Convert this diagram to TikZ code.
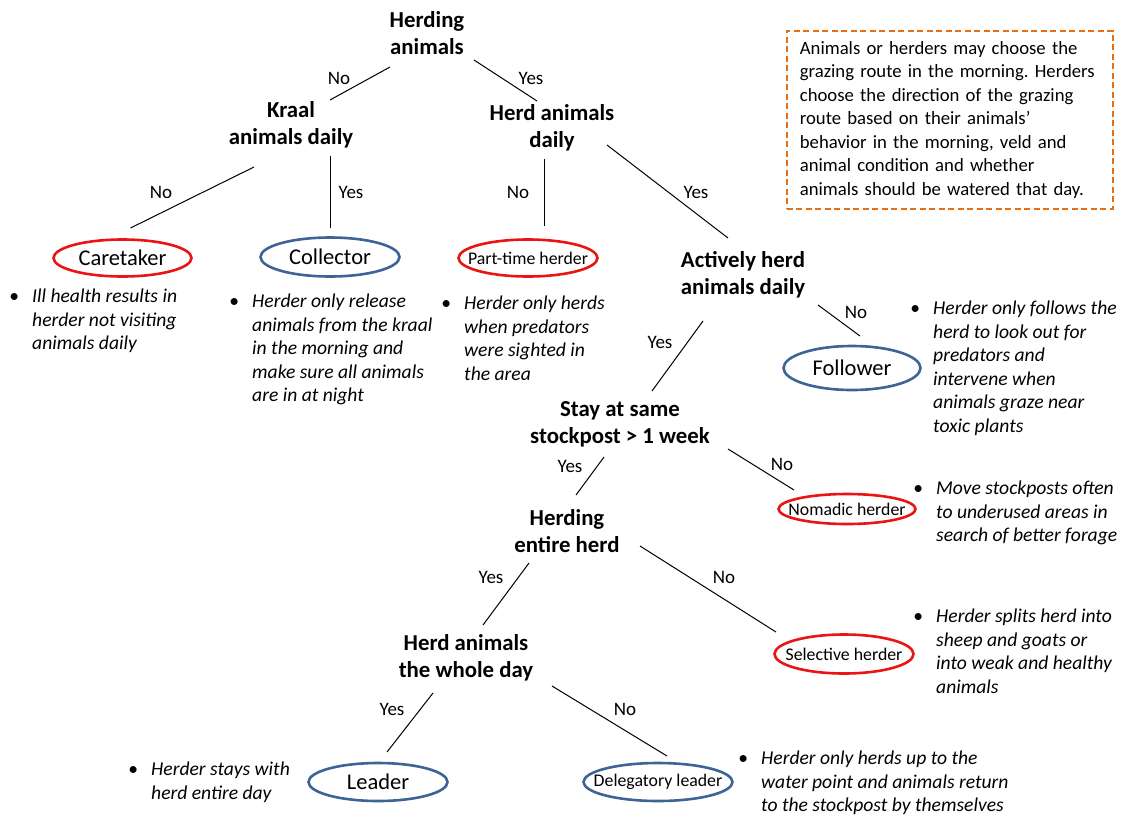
\documentclass[tikz,border=0pt]{standalone}
\usepackage{fontspec}
\setmainfont{Carlito}
\usetikzlibrary{shapes.geometric,calc}
\definecolor{ored}{RGB}{235,20,20}
\definecolor{oblue}{RGB}{62,100,150}
\definecolor{oorange}{RGB}{230,110,20}
\tikzset{
  question/.style={align=center,inner sep=0pt,font=\fontsize{22.8}{27}\selectfont\bfseries},
  role/.style={ellipse,line width=2.6pt,inner sep=0pt,minimum width=139pt,minimum height=38pt,font=\fontsize{22.5}{24}\selectfont},
  rolesmall/.style={role,font=\fontsize{17.8}{20}\selectfont},
  redrole/.style={draw=ored},
  bluerole/.style={draw=oblue},
  lbl/.style={inner sep=0pt,font=\fontsize{19}{21}\selectfont},
  desc/.style={align=left,inner sep=0pt,anchor=north west,font=\fontsize{19.6}{23.5}\selectfont\itshape},
  edge/.style={line width=1pt,black},
  note/.style={draw=oorange,dashed,dash pattern=on 6pt off 3.5pt,line width=1.8pt,anchor=north west,
    minimum width=326pt,minimum height=178pt,inner xsep=13pt,inner ysep=0pt,align=left,
    text width=300pt,font=\fontsize{18.7}{23.5}\selectfont}
}
\newcommand{\bul}{\llap{\upshape\textbullet\hspace{13pt}}}
\newcommand{\rtext}[1]{\makebox[0pt]{#1}}
\frenchspacing
\begin{document}
\begin{tikzpicture}[x=1pt,y=-1pt]
\useasboundingbox (0,0) rectangle (1123,817);
% questions
\node[question] (q0) at (427,33) {Herding\\animals};
\node[question] (q1) at (291,125) {Kraal\\animals daily};
\node[question] (q2) at (552,128) {Herd animals\\daily};
\node[question] (q3) at (743,275) {Actively herd\\animals daily};
\node[question] (q4) at (620,424) {Stay at same\\stockpost > 1 week};
\node[question] (q5) at (567,531) {Herding\\entire herd};
\node[question] (q6) at (466,658) {Herd animals\\the whole day};
% roles
\node[role,redrole,minimum width=138pt,minimum height=37pt] (care) at (122.5,258) {\rtext{Caretaker}};
\node[role,bluerole,minimum height=39pt] (coll) at (330,257) {\rtext{Collector}};
\node[rolesmall,redrole,minimum height=37pt] (part) at (528,258) {\rtext{Part-time herder}};
\node[role,bluerole,minimum width=137pt,minimum height=44pt] (foll) at (852,368) {\rtext{Follower}};
\node[rolesmall,redrole,minimum width=137pt,minimum height=30pt] (noma) at (847,509) {\rtext{Nomadic herder}};
\node[rolesmall,redrole,minimum height=39pt] (sele) at (844,654) {\rtext{Selective herder}};
\node[role,bluerole,minimum height=38pt] (lead) at (378,782) {\rtext{Leader}};
\node[rolesmall,bluerole,minimum width=149pt,minimum height=38pt] (dele) at (658,782) {\rtext{Delegatory leader}};
% connectors
\draw[edge] ($(q0)+(-37,34)$) -- ($(q1)+(39,-25)$);
\draw[edge] ($(q0)+(47,27)$) -- ($(q2)+(-15,-27)$);
\draw[edge] ($(q1)+(-37,42)$) -- ($(care)+(8,-30)$);
\draw[edge] ($(q1)+(39,31)$) -- ($(coll)+(0,-29)$);
\draw[edge] ($(q2)+(-8,31)$) -- ($(part)+(16,-32)$);
\draw[edge] ($(q2)+(55,17)$) -- ($(q3)+(-15,-37)$);
\draw[edge] ($(q3)+(75,30)$) -- ($(foll)+(8,-32)$);
\draw[edge] ($(q3)+(-40,46)$) -- ($(q4)+(32,-33)$);
\draw[edge] ($(q4)+(-16,33)$) -- ($(q5)+(9,-36)$);
\draw[edge] ($(q4)+(108,25)$) -- ($(noma)+(-53,-19)$);
\draw[edge] ($(q5)+(-38,32)$) -- ($(q6)+(17,-33)$);
\draw[edge] ($(q5)+(73,15)$) -- ($(sele)+(-68,-22)$);
\draw[edge] ($(q6)+(-33,35)$) -- ($(lead)+(9,-30)$);
\draw[edge] ($(q6)+(86,28)$) -- ($(dele)+(9,-26)$);
% labels
\node[lbl] (l1) at (339,78) {No};
\node[lbl] (l2) at (531,78) {Yes};
\node[lbl] (l3) at (161,192) {No};
\node[lbl] (l4) at (351,192) {Yes};
\node[lbl] (l5) at (518,192) {No};
\node[lbl] (l6) at (696,192) {Yes};
\node[lbl] (l7) at (856,312) {No};
\node[lbl] (l8) at (660,342) {Yes};
\node[lbl] (l9) at (570,466) {Yes};
\node[lbl] (l10) at (782,464) {No};
\node[lbl] (l11) at (491,577) {Yes};
\node[lbl] (l12) at (724,577) {No};
\node[lbl] (l13) at (392,709) {Yes};
\node[lbl] (l14) at (625,709) {No};
% descriptions
\node[desc] (d1) at (32,289) {\bul Ill health results in\\herder not visiting\\animals daily};
\node[desc] (d2) at (252,294) {\bul Herder only release\\animals from the kraal\\in the morning and\\make sure all animals\\are in at night};
\node[desc] (d3) at (464,296) {\bul Herder only herds\\when predators\\were sighted in\\the area};
\node[desc] (d4) at (933,301) {\bul Herder only follows the\\herd to look out for\\predators and\\intervene when\\animals graze near\\toxic plants};
\node[desc] (d5) at (936,481) {\bul Move stockposts often\\to underused areas in\\search of better forage};
\node[desc] (d6) at (936,609) {\bul Herder splits herd into\\sheep and goats or\\into weak and healthy\\animals};
\node[desc] (d7) at (761,751) {\bul Herder only herds up to the\\water point and animals return\\to the stockpost by themselves};
\node[desc] (d8) at (151,762) {\bul Herder stays with\\herd entire day};
% note
\node[note] (box) at (786,30) {Animals or herders may choose the\\grazing route in the morning. Herders\\choose the direction of the grazing\\route based on their animals'\\behavior in the morning, veld and\\animal condition and whether\\animals should be watered that day.};
\end{tikzpicture}
\end{document}
